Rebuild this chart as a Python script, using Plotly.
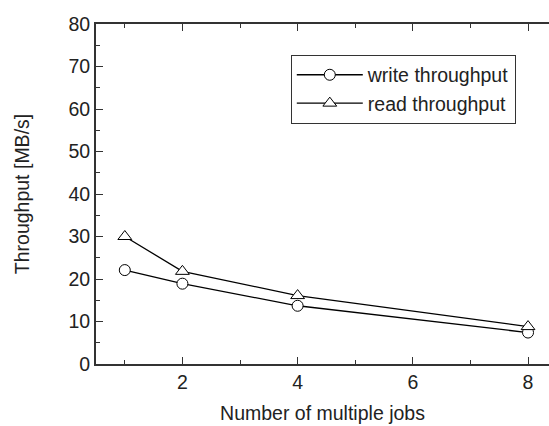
import plotly.graph_objects as go

jobs = [1, 2, 4, 8]
write_tp = [22.1, 18.9, 13.7, 7.4]
read_tp = [30.0, 21.8, 16.1, 8.8]

FONT = "Liberation Sans, Arial, sans-serif"
AX = "#333333"

fig = go.Figure()
fig.add_trace(go.Scatter(
    x=jobs, y=write_tp, name="write throughput", mode="lines+markers",
    line=dict(color="black", width=1.3),
    marker=dict(symbol="circle", size=11, color="white", line=dict(color="black", width=1)),
))
fig.add_trace(go.Scatter(
    x=jobs, y=read_tp, name="read throughput", mode="lines+markers",
    line=dict(color="black", width=1.3),
    marker=dict(symbol="triangle-up", size=12, color="white", line=dict(color="black", width=1)),
))

fig.update_layout(
    width=549, height=426,
    margin=dict(l=96, r=0, t=24, b=62),
    paper_bgcolor="white", plot_bgcolor="white",
    font=dict(family=FONT, size=19.5, color="#222222"),
    showlegend=True,
    legend=dict(
        x=0.43, y=0.91, xanchor="left", yanchor="top",
        bordercolor="#333333", borderwidth=1, bgcolor="white",
        font=dict(size=19.5), tracegroupgap=0,
        itemwidth=66,
    ),
    xaxis=dict(
        range=[0.5, 8.364], tick0=0, dtick=2, automargin=False,
        showgrid=False, zeroline=False,
        showline=True, linecolor=AX, linewidth=2, mirror="ticks",
        ticks="inside", ticklen=7, tickwidth=1.3, tickcolor=AX,
        minor=dict(ticks="inside", ticklen=4, dtick=1, tick0=0, tickcolor=AX, tickwidth=1.3),
        title=dict(text="Number of multiple jobs", standoff=14, font=dict(size=19.5)),
    ),
    yaxis=dict(
        range=[0, 80], tick0=0, dtick=10, automargin=False,
        showgrid=False, zeroline=False,
        showline=True, linecolor=AX, linewidth=2, mirror=False,
        ticks="inside", ticklen=7, tickwidth=1.3, tickcolor=AX,
        minor=dict(ticks="inside", ticklen=4, dtick=5, tick0=0, tickcolor=AX, tickwidth=1.3),
        title=dict(text="Throughput [MB/s]", standoff=34, font=dict(size=19.5)),
    ),
)

fig.write_html(
    "out.html",
    config={"displayModeBar": False},
    post_script="document.body.style.margin='0';",
)
